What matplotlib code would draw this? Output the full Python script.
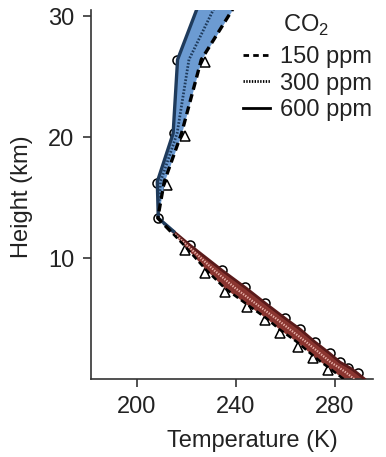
import numpy as np
import matplotlib
matplotlib.use("Agg")
import matplotlib.pyplot as plt
from matplotlib.lines import Line2D

plt.rcParams['font.family'] = ['Liberation Sans', 'DejaVu Sans']
plt.rcParams['mathtext.fontset'] = 'custom'
plt.rcParams['mathtext.rm'] = 'Liberation Sans'

# model levels (km) and temperature profiles (K) for the three CO2 runs
height = [0.0, 0.5, 0.9, 1.4, 2.1, 3.1, 4.1, 5.0, 6.2, 7.5, 9.0, 11.1, 12.2,
          13.3, 16.3, 20.3, 26.4, 31.0]
t_150 = [283.5, 280.3, 277.8, 274.4, 270.2, 264.4, 257.6, 252.4, 244.2, 235.5,
         228.0, 218.8, 213.6, 208.4, 211.0, 218.0, 226.0, 240.0]
t_300 = [287.8, 284.7, 282.0, 278.2, 274.1, 268.1, 261.8, 256.2, 248.2, 239.8,
         231.1, 220.0, 214.2, 208.5, 209.5, 216.2, 221.0, 232.0]
t_600 = [292.0, 289.0, 286.3, 282.0, 278.0, 271.7, 266.0, 260.0, 252.3, 244.2,
         234.3, 221.2, 214.8, 208.6, 208.2, 214.6, 216.4, 225.0]
tropo_top = 12  # index where shading switches from red to blue

# marker positions
circ_t = [221.4, 234.3, 243.6, 251.7, 259.8, 265.9, 271.9, 278.0, 282.0, 285.3,
          289.3, 208.5, 208.1, 215.0, 216.0]
circ_z = [11.07, 9.0, 7.6, 6.3, 5.04, 4.13, 3.06, 2.15, 1.40, 0.91, 0.5,
          13.3, 16.2, 20.3, 26.4]
tri_t = [219.4, 227.5, 235.6, 244.4, 251.7, 257.8, 265.1, 271.1, 277.2,
         212.1, 219.4, 227.5]
tri_z = [10.66, 8.76, 7.19, 5.95, 4.88, 3.80, 2.64, 1.74, 0.74,
         16.0, 20.1, 26.2]

labels = ['150 ppm', '300 ppm', '600 ppm']

red = '#8a3530'
blue = '#6c9bd2'
navy = '#1f3b5c'
dash = (0, (2.4, 1.4))
dots = (0, (0.6, 0.6))

fig = plt.figure(figsize=(3.86, 4.57), dpi=100)
ax = fig.add_axes([91 / 386, 78 / 457, 282 / 386, 369 / 457])

z = np.array(height)
a = np.array(t_150)
b = np.array(t_600)
m = np.array(t_300)
k = tropo_top

ax.plot(circ_t, circ_z, 'o', ms=6.5, mfc='none', mec='black', mew=1.1, zorder=1)
ax.plot(tri_t, tri_z, '^', ms=6.5, mfc='none', mec='black', mew=1.1, zorder=1)

ax.fill_betweenx(z[:k + 1], a[:k + 1], b[:k + 1], color=red, lw=0, zorder=2)
ax.fill_betweenx(z[k:], a[k:], b[k:], color=blue, lw=0, zorder=2)

# troposphere lines
ax.plot(b[:k + 1], z[:k + 1], color='#5a1a1a', lw=2.0, zorder=3)
ax.plot(m[:k + 1], z[:k + 1], color='#e8b0a8', lw=1.6, ls=dots, zorder=3)
ax.plot(a[:k + 1], z[:k + 1], color='black', lw=1.8, ls=dash, zorder=3)
# stratosphere lines
ax.plot(b[k:], z[k:], color=navy, lw=2.4, zorder=3)
ax.plot(m[k:], z[k:], color=navy, lw=2.0, ls=dots, zorder=3)
ax.plot(a[k:], z[k:], color='black', lw=2.4, ls=dash, zorder=3)

ax.set_xlim(181.4, 295.4)
ax.set_ylim(0, 30.5)
ax.set_xticks([200, 240, 280])
ax.set_yticks([10, 20, 30])
for s in ['top', 'right']:
    ax.spines[s].set_visible(False)
for s in ['left', 'bottom']:
    ax.spines[s].set_color('#333333')
    ax.spines[s].set_linewidth(1.2)
ax.tick_params(direction='out', length=6, width=1.2, color='#333333',
               labelsize=17, labelcolor='#222222', pad=6)

fig.text(252 / 386, 1 - 441 / 457, 'Temperature (K)', fontsize=17,
         color='#222222', ha='center', va='center')
fig.text(22 / 386, 1 - 197 / 457, 'Height (km)', fontsize=17,
         color='#222222', ha='center', va='center', rotation=90)

handles = [Line2D([], [], color='black', lw=2, ls=(0, (2, 1.5))),
           Line2D([], [], color='black', lw=2, ls=(0, (0.5, 0.5))),
           Line2D([], [], color='black', lw=2)]
fig.legend(handles, labels, loc='upper left',
           bbox_to_anchor=(243 / 386, 1 - 46 / 457), frameon=False,
           fontsize=17, borderpad=0, borderaxespad=0, handlelength=1.15,
           handletextpad=0.42, labelspacing=0.2, labelcolor='#222222')
fig.text(283 / 386, 1 - 32 / 457, r'CO$_{\mathregular{2}}$', fontsize=17,
         color='#222222', ha='left', va='baseline')

fig.savefig('out.png', dpi=100)
